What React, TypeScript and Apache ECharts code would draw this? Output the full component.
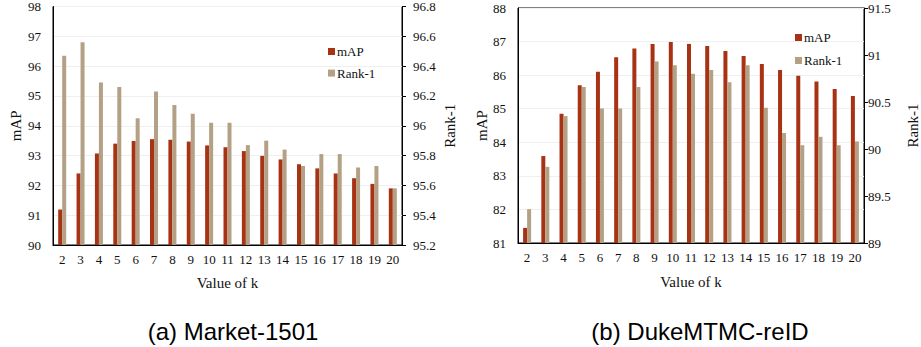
import React, { useEffect, useRef } from "react";
import * as echarts from "echarts";

const kValues = ["2", "3", "4", "5", "6", "7", "8", "9", "10", "11", "12", "13", "14", "15", "16", "17", "18", "19", "20"];
const marketMAP = [91.19, 92.4, 93.07, 93.4, 93.49, 93.55, 93.53, 93.47, 93.34, 93.28, 93.15, 92.99, 92.87, 92.71, 92.57, 92.4, 92.24, 92.05, 91.9];
const marketRank1 = [96.47, 96.56, 96.29, 96.26, 96.05, 96.23, 96.14, 96.08, 96.02, 96.02, 95.87, 95.9, 95.84, 95.73, 95.81, 95.81, 95.72, 95.73, 95.58];
const dukeMAP = [81.45, 83.59, 84.85, 85.7, 86.1, 86.53, 86.79, 86.93, 86.99, 86.93, 86.87, 86.72, 86.57, 86.33, 86.15, 85.98, 85.81, 85.59, 85.38];
const dukeRank1 = [89.36, 89.81, 90.35, 90.66, 90.43, 90.43, 90.66, 90.93, 90.89, 90.8, 90.84, 90.71, 90.89, 90.44, 90.17, 90.04, 90.13, 90.04, 90.08];
const captions = ["(a) Market-1501", "(b) DukeMTMC-reID"];
const xName = "Value of k";
const seriesNames = ["mAP", "Rank-1"];

const RED = "#a83214";
const TAN = "#b4a084";
const SERIF = "'Liberation Serif', 'Times New Roman', serif";
const SANS = "'Liberation Sans', Arial, sans-serif";

export default function App() {
  const ref = useRef<HTMLDivElement>(null);
  useEffect(() => {
    if (!ref.current) return;
    const chart = echarts.init(ref.current, undefined, { renderer: "svg" });
    const axisLabel = { fontFamily: SERIF, fontSize: 13, color: "#111" };
    const nameStyle = { fontFamily: SERIF, fontSize: 15, color: "#111" };
    const line = { show: true, lineStyle: { color: "#000", width: 1 } };
    const xAxisBase = (gridIndex: number, gap: number) => ({
      type: "category",
      gridIndex,
      data: kValues,
      axisLine: line,
      axisTick: { show: false },
      axisLabel: { ...axisLabel, interval: 0, margin: 8 },
      name: xName,
      nameLocation: "middle",
      nameGap: gap,
      nameTextStyle: nameStyle,
    });
    const leftY = (gridIndex: number, min: number, max: number, interval: number, gap: number) => ({
      type: "value",
      gridIndex,
      position: "left",
      min,
      max,
      interval,
      axisLine: line,
      axisTick: { show: false },
      axisLabel: { ...axisLabel, margin: 12 },
      splitLine: { show: true, lineStyle: { color: "#efefef", width: 1 } },
      name: "mAP",
      nameLocation: "middle",
      nameRotate: 90,
      nameGap: gap,
      nameTextStyle: nameStyle,
    });
    const rightY = (gridIndex: number, min: number, max: number, interval: number, gap: number, margin: number) => ({
      type: "value",
      gridIndex,
      position: "right",
      min,
      max,
      interval,
      axisLine: line,
      axisTick: { show: true, inside: false, length: 4, lineStyle: { color: "#000" } },
      axisLabel: { ...axisLabel, margin },
      splitLine: { show: false },
      name: "Rank-1",
      nameLocation: "middle",
      nameRotate: 90,
      nameGap: gap,
      nameTextStyle: nameStyle,
    });
    const bar = (name: string, x: number, y: number, data: number[], color: string) => ({
      type: "bar",
      name,
      xAxisIndex: x,
      yAxisIndex: y,
      data,
      barWidth: 4,
      barGap: "0%",
      itemStyle: { color },
    });
    const legend = (left: number, top: number, gap: number) => ({
      orient: "vertical",
      left,
      top,
      itemWidth: 7,
      itemHeight: 7,
      itemGap: gap,
      icon: "rect",
      data: seriesNames,
      textStyle: { fontFamily: SERIF, fontSize: 13, color: "#111", padding: [0, 0, 0, -3] },
    });
    chart.setOption({
      animation: false,
      backgroundColor: "#fff",
      grid: [
        { left: 53, top: 6, width: 349, height: 239, show: true, borderColor: "#000", borderWidth: 1 },
        { left: 518, top: 8, width: 348, height: 235, show: true, borderColor: "#000", borderWidth: 1 },
      ],
      legend: [legend(323, 40, 8.6), legend(790, 26, 10)],
      xAxis: [xAxisBase(0, 30), xAxisBase(1, 31)],
      yAxis: [
        leftY(0, 90, 98, 1, 30),
        rightY(0, 95.2, 96.8, 0.2, 40, 11),
        leftY(1, 81, 88, 1, 28),
        rightY(1, 89, 91.5, 0.5, 41, 4),
      ],
      series: [
        bar(seriesNames[0], 0, 0, marketMAP, RED),
        bar(seriesNames[1], 0, 1, marketRank1, TAN),
        bar(seriesNames[0], 1, 2, dukeMAP, RED),
        bar(seriesNames[1], 1, 3, dukeRank1, TAN),
      ],
      graphic: [
        { type: "text", x: 233, y: 331, style: { text: captions[0], font: `24px ${SANS}`, fill: "#000", textAlign: "center", textVerticalAlign: "middle" } },
        { type: "text", x: 700, y: 331, style: { text: captions[1], font: `24px ${SANS}`, fill: "#000", textAlign: "center", textVerticalAlign: "middle" } },
      ],
    });
    return () => chart.dispose();
  }, []);
  return <div ref={ref} style={{ position: "absolute", left: 0, top: 0, width: 921, height: 347 }} />;
}
